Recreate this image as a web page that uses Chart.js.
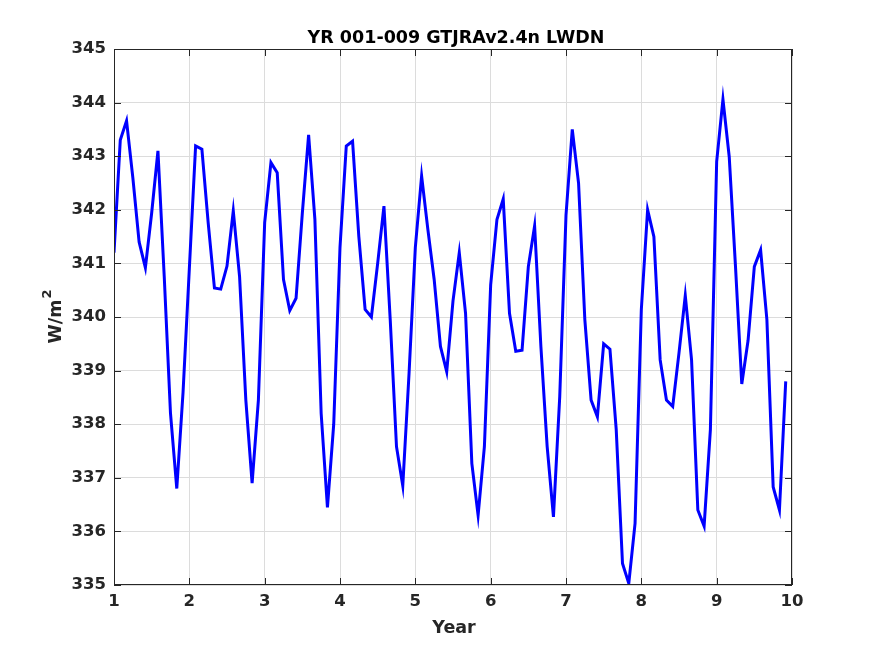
<!DOCTYPE html>
<html>
<head>
<meta charset="utf-8">
<script src="https://cdn.jsdelivr.net/npm/chart.js@4/dist/chart.umd.min.js"></script>
<style>
  body { margin: 0; background: #fff; }
  canvas { display: block; }
</style>
</head>
<body>
<canvas id="lwdn" width="875" height="656"></canvas>
<script>
// monthly LWDN, one array per model year
const yr1 = [341.2, 343.3, 343.66, 342.6, 341.4, 340.92, 341.94, 343.1, 340.76, 338.2, 336.8, 338.6];
const yr2 = [340.9, 343.19, 343.13, 341.76, 340.54, 340.52, 340.95, 341.98, 340.76, 338.45, 336.9, 338.45];
const yr3 = [341.76, 342.88, 342.69, 340.7, 340.12, 340.35, 341.94, 343.4, 341.82, 338.2, 336.45, 338.0];
const yr4 = [341.3, 343.19, 343.28, 341.5, 340.14, 340.0, 341.0, 342.07, 339.95, 337.58, 336.85, 338.95];
const yr5 = [341.3, 342.63, 341.63, 340.7, 339.45, 338.98, 340.3, 341.2, 340.07, 337.27, 336.3, 337.58];
const yr6 = [340.6, 341.82, 342.2, 340.07, 339.36, 339.38, 340.94, 341.7, 339.45, 337.58, 336.27, 338.51];
const yr7 = [341.9, 343.5, 342.5, 339.95, 338.45, 338.14, 339.5, 339.4, 337.9, 335.4, 335.03, 336.15];
const yr8 = [340.14, 342.0, 341.5, 339.2, 338.45, 338.33, 339.33, 340.4, 339.2, 336.4, 336.1, 337.9];
const yr9 = [342.9, 344.06, 342.99, 340.94, 338.75, 339.56, 340.94, 341.25, 339.95, 336.83, 336.4, 338.8];
const years = [yr1, yr2, yr3, yr4, yr5, yr6, yr7, yr8, yr9];

const xTicks = [1, 2, 3, 4, 5, 6, 7, 8, 9, 10];
const yTicks = [335, 336, 337, 338, 339, 340, 341, 342, 343, 344, 345];

const points = [];
years.forEach((vals, k) => {
  vals.forEach((v, m) => points.push({ x: k + 1 + m / 12, y: v }));
});

const FONT = "'DejaVu Sans', sans-serif";
const INK = "#262626";

// MATLAB-like box, inward ticks and labels
const frame = {
  id: "frame",
  afterDraw(chart) {
    const c = chart.ctx;
    const a = chart.chartArea;
    const xs = chart.scales.x, ys = chart.scales.y;
    c.save();
    c.strokeStyle = INK;
    c.lineWidth = 1;
    c.strokeRect(a.left + 0.5, a.top + 0.5, a.right - a.left - 1, a.bottom - a.top - 1);
    const tl = 7;
    c.beginPath();
    xTicks.forEach(t => {
      const px = Math.round(xs.getPixelForValue(t)) + 0.5;
      c.moveTo(px, a.bottom); c.lineTo(px, a.bottom - tl);
      c.moveTo(px, a.top); c.lineTo(px, a.top + tl);
    });
    yTicks.forEach(t => {
      const py = Math.round(ys.getPixelForValue(t)) + 0.5;
      c.moveTo(a.left, py); c.lineTo(a.left + tl, py);
      c.moveTo(a.right, py); c.lineTo(a.right - tl, py);
    });
    c.stroke();

    c.fillStyle = "#000";
    c.font = "bold 17.5px " + FONT;
    c.textAlign = "center";
    c.textBaseline = "alphabetic";
    c.fillText("YR 001-009 GTJRAv2.4n LWDN", 456, 43);

    c.fillStyle = INK;
    c.fillText("Year", 454, 633);

    // y label with superscript
    c.translate(61, (a.top + a.bottom) / 2);
    c.rotate(-Math.PI / 2);
    c.font = "bold 17.5px " + FONT;
    const w1 = c.measureText("W/m").width;
    c.font = "bold 13px " + FONT;
    const w2 = c.measureText("2").width;
    const x0 = -(w1 + w2) / 2;
    c.textAlign = "left";
    c.font = "bold 17.5px " + FONT;
    c.fillText("W/m", x0, 0);
    c.font = "bold 13px " + FONT;
    c.fillText("2", x0 + w1 + 1, -10);
    c.restore();
  }
};

new Chart(document.getElementById("lwdn"), {
  type: "line",
  data: {
    datasets: [{
      data: points,
      borderColor: "#0000ff",
      borderWidth: 3,
      pointRadius: 0,
      tension: 0,
      fill: false
    }]
  },
  options: {
    responsive: false,
    animation: false,
    devicePixelRatio: 1,
    layout: { padding: { top: 49, right: 83, bottom: 0, left: 0 } },
    plugins: { legend: { display: false }, title: { display: false }, tooltip: { enabled: false } },
    scales: {
      x: {
        type: "linear",
        min: 1, max: 10,
        afterFit(s) { s.height = 71; },
        afterBuildTicks(s) { s.ticks = xTicks.map(v => ({ value: v })); },
        grid: { color: "#dcdcdc", drawTicks: false },
        border: { display: false },
        ticks: { autoSkip: false, maxRotation: 0, padding: 7, color: INK, font: { family: FONT, size: 16.5, weight: "bold" } }
      },
      y: {
        min: 335, max: 345,
        afterFit(s) { s.width = 114; },
        afterBuildTicks(s) { s.ticks = yTicks.map(v => ({ value: v })); },
        grid: { color: "#dcdcdc", drawTicks: false },
        border: { display: false },
        ticks: { autoSkip: false, padding: 8, color: INK, font: { family: FONT, size: 16.5, weight: "bold" } }
      }
    }
  },
  plugins: [frame]
});
</script>
</body>
</html>
